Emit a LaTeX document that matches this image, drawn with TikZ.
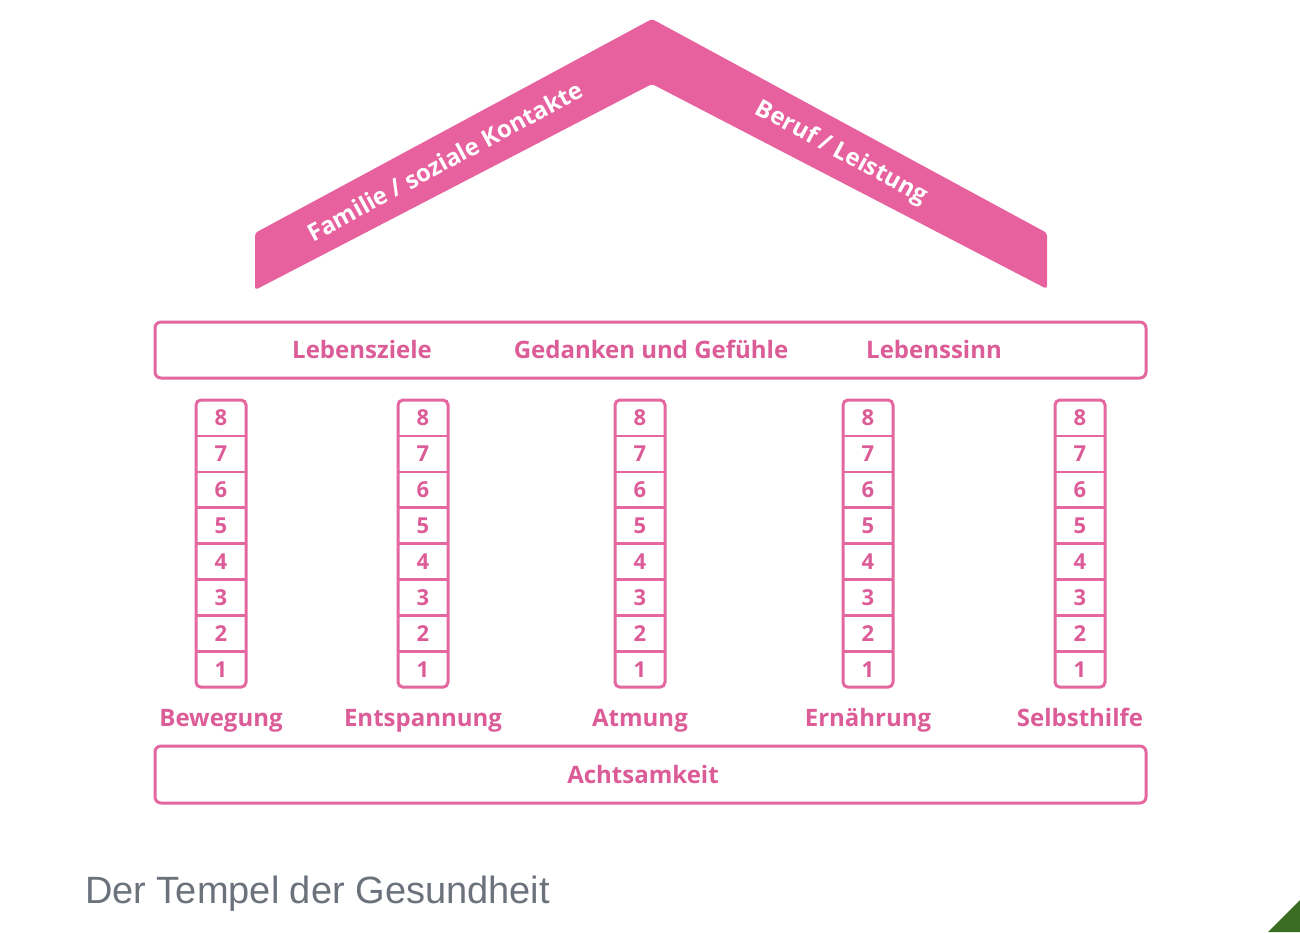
\documentclass[tikz,border=0pt]{standalone}
\usepackage{fontspec}
\setmainfont{Open Sans}
\newfontfamily\capfont{Liberation Sans}
\definecolor{tpink}{HTML}{E8619F}
\definecolor{tline}{HTML}{E4679F}
\definecolor{ttext}{HTML}{DC5C98}
\definecolor{tgray}{HTML}{6B727C}
\definecolor{tgreen}{HTML}{3B6E25}
\begin{document}
\begin{tikzpicture}[x=1pt,y=-1pt,
  bar/.style={draw=tline, line width=3pt, rounded corners=6pt, inner sep=0pt, fill=white},
  lbl/.style={text=ttext, inner sep=0pt, text height=17pt, text depth=5pt, font=\bfseries\fontsize{24}{24}\selectfont},
  rooftext/.style={text=white, inner sep=0pt, font=\bfseries\fontsize{24}{24}\selectfont},
  cell/.style={minimum width=50pt, minimum height=35.9pt, inner sep=0pt, outer sep=0pt, text=ttext, font=\bfseries\fontsize{22}{22}\selectfont},
  colframe/.style={draw=tline, line width=3pt, rounded corners=5pt},
  colsep/.style={draw=tline, line width=2.6pt},
  roof/.style={fill=tpink, rounded corners=3pt}
]
\useasboundingbox (0,0) rectangle (1300,932);
% roof
\fill[roof] (255,233) -- (652,19) -- (1047,233) -- (1047,289) -- (652,84) -- (255,290) -- cycle;
\node[rooftext, rotate=28.4] (fam) at (445,161) {Familie / soziale Kontakte};
\node[rooftext, rotate=-28.4] (beruf) at (841,153) {Beruf / Leistung};
% top bar
\node[bar, minimum width=991pt, minimum height=56pt] (top) at (650.5,350) {};
\node[lbl] (ziele) at (362,352) {Lebensziele};
\node[lbl] (gedanken) at (651,352) {Gedanken und Gefühle};
\node[lbl] (sinn) at (934,352) {Lebenssinn};
% columns
\foreach \c/\x/\name in {1/221/Bewegung, 2/423/Entspannung, 3/640/Atmung, 4/868/Ernährung, 5/1080/Selbsthilfe}{
  \foreach \k in {1,...,8}{
    \node[cell] (c\c-\k) at (\x, {400+(8-\k)*35.9+17.95}) {\k};
  }
  \draw[colframe] (c\c-8.north west) rectangle (c\c-1.south east);
  \foreach \k in {1,...,7}{
    \draw[colsep] (c\c-\k.north west) -- (c\c-\k.north east);
  }
  \node[lbl] (l\c) at (\x,720) {\name};
}
% bottom bar
\node[bar, minimum width=991pt, minimum height=57pt] (achts) at (650.5,774.5) {};
\node[lbl] (achtstext) at (643,777) {Achtsamkeit};
% caption
\node[anchor=base west, inner sep=0pt, text=tgray, font=\capfont\fontsize{38}{38}\selectfont] (cap) at (85,903) {Der Tempel der Gesundheit};
% corner
\fill[tgreen] (1268,932) -- (1300,900) -- (1300,932) -- cycle;
\end{tikzpicture}
\end{document}
